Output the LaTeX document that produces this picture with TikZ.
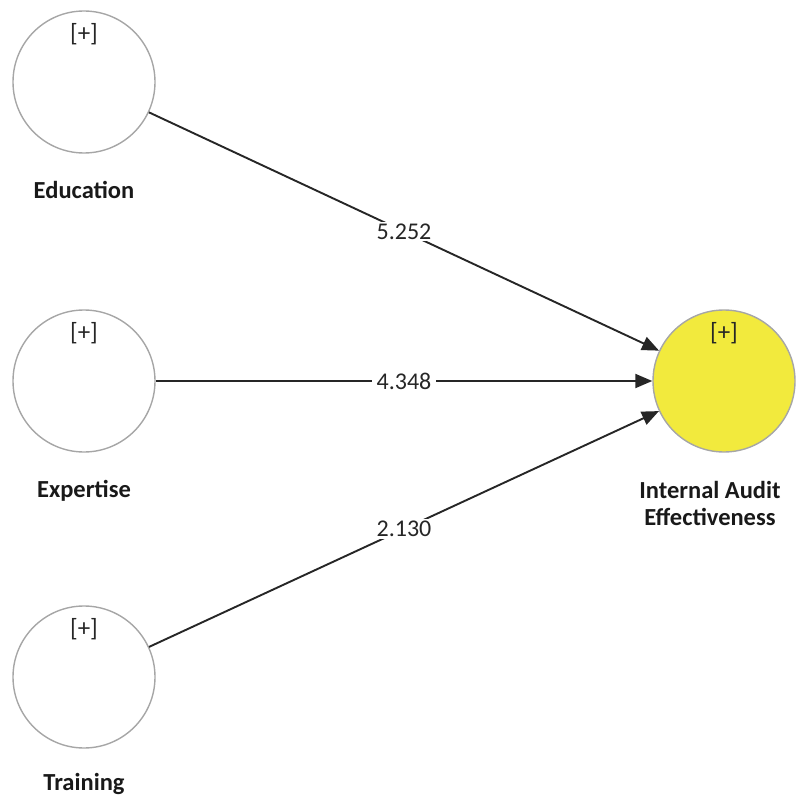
\documentclass[tikz,border=0pt]{standalone}
\usepackage{fontspec}
\setmainfont{Carlito}
\usetikzlibrary{arrows.meta,positioning}
\definecolor{latentyellow}{RGB}{242,234,61}

\begin{document}
\begin{tikzpicture}[x=1pt, y=-1pt,
  latent/.style={circle, draw=black!35, line width=1.4pt, minimum size=142pt,
                 inner sep=0pt},
  plusmark/.style={font=\fontsize{25}{25}\selectfont, text=black!85, inner sep=0pt},
  lvname/.style={font=\fontsize{24.5}{27}\selectfont\bfseries, align=center,
                 text=black!90, inner sep=0pt},
  effect/.style={-{Triangle[length=17pt,width=14pt]}, line width=1.9pt, draw=black!85},
  coef/.style={font=\fontsize{24}{24}\selectfont, text=black!85, fill=white,
               inner xsep=5pt, inner ysep=2pt, midway},
]
\useasboundingbox (0,0) rectangle (805,799);

% Constructs
\node[latent] (edu) at (84,82) {};
\node[latent] (exp) at (84,381) {};
\node[latent] (trn) at (84,677) {};
\node[latent, fill=latentyellow] (iae) at (724,381) {};

% Expand markers
\node[plusmark, below=13pt of edu.north] (edu-plus) {[+]};
\node[plusmark, below=13pt of exp.north] (exp-plus) {[+]};
\node[plusmark, below=13pt of trn.north] (trn-plus) {[+]};
\node[plusmark, below=13pt of iae.north] (iae-plus) {[+]};

% Construct names
\node[lvname, below=27pt of edu] (edu-name) {Education};
\node[lvname, below=27pt of exp] (exp-name) {Expertise};
\node[lvname, below=24pt of trn] (trn-name) {Training};
\node[lvname, below=28pt of iae, xshift=-14pt] (iae-name) {Internal Audit\\Effectiveness};

% Path coefficients
\draw[effect] (edu) -- (iae) node[coef] (c-edu) {5.252};
\draw[effect] (exp) -- (iae) node[coef] (c-exp) {4.348};
\draw[effect] (trn) -- (iae) node[coef] (c-trn) {2.130};

\end{tikzpicture}
\end{document}
